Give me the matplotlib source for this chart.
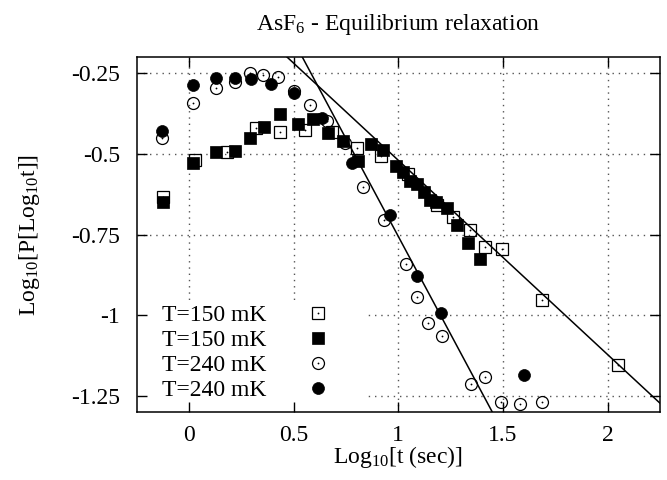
import matplotlib
matplotlib.use("Agg")
import matplotlib.pyplot as plt
from matplotlib.lines import Line2D
from matplotlib.patches import Rectangle
from matplotlib.legend_handler import HandlerTuple

plt.rcParams['font.family'] = ['Liberation Serif', 'DejaVu Serif']
plt.rcParams['mathtext.fontset'] = 'custom'
plt.rcParams['mathtext.rm'] = 'Liberation Serif'
plt.rcParams['mathtext.it'] = 'Liberation Serif:italic'
plt.rcParams['mathtext.bf'] = 'Liberation Serif:bold'
plt.rcParams['axes.unicode_minus'] = False
plt.rcParams['font.size'] = 17

# ---- data ----
sq_open_x = [-0.124, 0.027, 0.182, 0.322, 0.434, 0.554, 0.681, 0.801, 0.916,
             1.048, 1.187, 1.263, 1.340, 1.415, 1.495, 1.686, 2.050]
sq_open_y = [-0.634, -0.520, -0.496, -0.419, -0.432, -0.427, -0.432, -0.481, -0.508,
             -0.563, -0.659, -0.695, -0.737, -0.788, -0.795, -0.953, -1.154]

sq_fill_x = [-0.124, 0.019, 0.131, 0.219, 0.290, 0.357, 0.437, 0.519, 0.593, 0.665,
             0.734, 0.809, 0.868, 0.925, 0.989, 1.024, 1.056, 1.091, 1.123, 1.149,
             1.180, 1.232, 1.279, 1.332, 1.391]
sq_fill_y = [-0.650, -0.530, -0.494, -0.491, -0.451, -0.417, -0.376, -0.409, -0.393, -0.437,
             -0.460, -0.523, -0.471, -0.489, -0.539, -0.556, -0.584, -0.594, -0.618, -0.644,
             -0.649, -0.669, -0.721, -0.775, -0.826]

ci_open_x = [-0.127, 0.019, 0.131, 0.219, 0.290, 0.354, 0.423, 0.500, 0.578, 0.657,
             0.745, 0.833, 0.932, 1.035, 1.088, 1.144, 1.208, 1.346, 1.415, 1.490,
             1.579, 1.686]
ci_open_y = [-0.450, -0.342, -0.298, -0.278, -0.250, -0.257, -0.264, -0.305, -0.348, -0.400,
             -0.468, -0.603, -0.706, -0.842, -0.943, -1.023, -1.064, -1.213, -1.192, -1.269,
             -1.273, -1.268]

ci_fill_x = [-0.127, 0.019, 0.131, 0.219, 0.295, 0.391, 0.501, 0.633, 0.777, 0.960,
             1.088, 1.203, 1.601]
ci_fill_y = [-0.430, -0.286, -0.267, -0.265, -0.270, -0.285, -0.312, -0.391, -0.528, -0.690,
             -0.879, -0.992, -1.186]

fit_slopes = [-0.601, -1.21]
fit_intercepts = [0.0805, 0.454]

legend_labels = ['T=150 mK', 'T=150 mK', 'T=240 mK', 'T=240 mK']
x_ticks = [0, 0.5, 1, 1.5, 2]
x_ticklabels = ['0', '0.5', '1', '1.5', '2']
y_ticks = [-0.25, -0.5, -0.75, -1, -1.25]
y_ticklabels = ['-0.25', '-0.5', '-0.75', '-1', '-1.25']

# ---- figure ----
fig = plt.figure(figsize=(6.67, 4.8), dpi=100)
ax = fig.add_axes([0.2049, 0.1410, 0.7846, 0.7408])
ax.set_xlim(-0.25, 2.25)
ax.set_ylim(-1.3, -0.2)

# manual grid (under the legend background, ticks drawn above)
grid_kw = dict(color='#555555', lw=1.0, linestyle=(0, (1, 3.5)), zorder=0.5)
for v in x_ticks:
    ax.axvline(v, **grid_kw)
for v in y_ticks:
    ax.axhline(v, **grid_kw)

ms = 8.6
open_kw = dict(linestyle='none', markerfacecolor='none', markeredgecolor='black',
               markeredgewidth=0.9, markersize=ms, zorder=2)
fill_kw = dict(linestyle='none', color='black', markeredgewidth=0.5, markersize=ms, zorder=2)
dot_kw = dict(linestyle='none', marker='o', color='black', markersize=1.3,
              markeredgewidth=0, zorder=2)

ax.plot(sq_open_x, sq_open_y, marker='s', **open_kw)
ax.plot(sq_open_x, sq_open_y, **dot_kw)
ax.plot(sq_fill_x, sq_fill_y, marker='s', **fill_kw)
ax.plot(ci_open_x, ci_open_y, marker='o', **open_kw)
ax.plot(ci_open_x, ci_open_y, **dot_kw)
ax.plot(ci_fill_x, ci_fill_y, marker='o', **fill_kw)

for m, b in zip(fit_slopes, fit_intercepts):
    ax.axline((0, b), slope=m, color='black', lw=1.1, zorder=2)

# legend background (white box hiding the grid)
ax.add_patch(Rectangle((0, 0), 0.436, 0.307, transform=ax.transAxes,
                       facecolor='white', edgecolor='none', zorder=1))

h_sq_open = (Line2D([], [], marker='s', **open_kw), Line2D([], [], **dot_kw))
h_sq_fill = Line2D([], [], marker='s', **fill_kw)
h_ci_open = (Line2D([], [], marker='o', **open_kw), Line2D([], [], **dot_kw))
h_ci_fill = Line2D([], [], marker='o', **fill_kw)
leg = ax.legend([h_sq_open, h_sq_fill, h_ci_open, h_ci_fill], legend_labels,
                handler_map={tuple: HandlerTuple(ndivide=1)},
                loc='center left', bbox_to_anchor=(0.0478, 0.1668),
                frameon=False, markerfirst=False, borderpad=0, borderaxespad=0,
                handlelength=2.0, handletextpad=1.2, labelspacing=0.15,
                fontsize=17)
leg.set_zorder(3)

ax.set_xticks(x_ticks)
ax.set_xticklabels(x_ticklabels)
ax.set_yticks(y_ticks)
ax.set_yticklabels(y_ticklabels)
ax.tick_params(direction='in', length=7, width=1.0, top=True, right=True,
               labelsize=17, color='black')
ax.tick_params(axis='x', pad=9)
ax.tick_params(axis='y', pad=12)
for s in ax.spines.values():
    s.set_linewidth(1.1)
    s.set_zorder(4)

ax.set_title('AsF$_6$ - Equilibrium relaxation', fontsize=17, pad=19)
ax.set_xlabel('Log$_{10}$[t (sec)]', fontsize=17, labelpad=-1)
ax.set_ylabel('Log$_{10}$[P[Log$_{10}$t]]', fontsize=17, labelpad=21)

fig.savefig('out.png', dpi=100)
